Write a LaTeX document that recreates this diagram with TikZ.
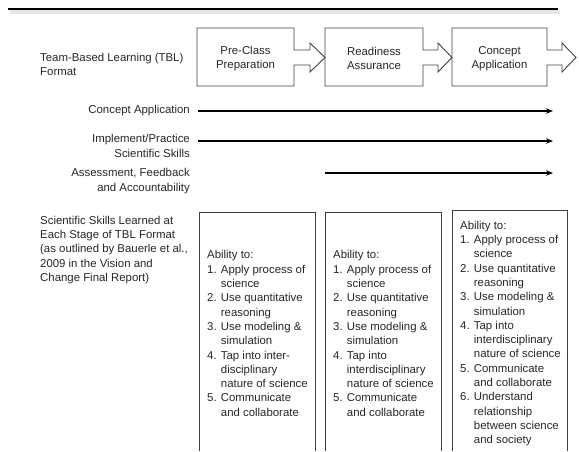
\documentclass[tikz,border=0pt]{standalone}
\usepackage{fontspec}
\setmainfont{Liberation Sans}
\usetikzlibrary{arrows.meta,positioning}
\tikzset{
  lbl/.style={inner sep=0pt, align=left, text=black!85,
    font=\fontsize{11.4}{14.3}\selectfont},
  rlbl/.style={lbl, align=right},
  flow/.style={line width=1.5pt, -{Stealth[length=7pt,width=5.5pt]}},
  frame/.style={draw=black!75, line width=0.9pt, line join=miter},
}
\newcommand{\ind}{\phantom{1. }}

\begin{document}
\begin{tikzpicture}[x=1pt,y=-1pt]
\useasboundingbox (0,0) rectangle (579,451);
% top rule
\draw[line width=4pt, black!10] (10,12) -- (560,12);
\draw[line width=2.5pt] (8,9) -- (558,9);

% stages of the format
\foreach \l/\r/\sx/\tip/\name/\txt in {197/294/310/325/pre/{Pre-Class\\Preparation},
    325/423/438/452/ready/{Readiness\\Assurance},
    452/547/562/576/apply/{Concept\\Application}}{
  \draw[frame] (\l,28) -- (\r,28) -- (\r,50) -- (\sx,50) -- (\sx,43) -- (\tip,57.5)
    -- (\sx,72) -- (\sx,65) -- (\r,65) -- (\r,86) -- (\l,86) -- cycle;
  \node[lbl, align=center] (\name) at ({(\l+\r)/2},58.5) {\txt};
}
\node[lbl, anchor=west] (tbl) at (40,64.5) {Team-Based Learning (TBL)\\Format};

% rows
\node[rlbl, anchor=east] (rowA) at (190,111) {Concept Application};
\node[rlbl, anchor=east] (rowB) at (190,146) {Implement/Practice\\Scientific Skills};
\node[rlbl, anchor=east] (rowC) at (190,181) {Assessment, Feedback\\and Accountability};
\coordinate (sA) at (198,111); \coordinate (eA) at (553,111);
\coordinate (sB) at (198,141); \coordinate (eB) at (553,141);
\coordinate (sC) at (325,173); \coordinate (eC) at (553,173);
\draw[flow] (sA) -- (eA);
\draw[flow] (sB) -- (eB);
\draw[flow] (sC) -- (eC);

% skills learned
\node[lbl, anchor=west] (skillhead) at (40,250) {Scientific Skills Learned at\\Each Stage of TBL Format\\(as outlined by Bauerle et al.,\\2009 in the Vision and\\Change Final Report)};
\foreach \l/\r/\t in {199/315/212, 325/441/212, 452/567/210}
  \draw[frame] (\l,451) -- (\l,\t) -- (\r,\t) -- (\r,451);

\node[lbl, anchor=west] (skillA) at (207,333.5) {Ability to:\\1. Apply process of\\\ind science\\2. Use quantitative\\\ind reasoning\\3. Use modeling \&\\\ind simulation\\4. Tap into inter-\\\ind disciplinary\\\ind nature of science\\5. Communicate\\\ind and collaborate};
\node[lbl, anchor=west] (skillB) at (333,333.5) {Ability to:\\1. Apply process of\\\ind science\\2. Use quantitative\\\ind reasoning\\3. Use modeling \&\\\ind simulation\\4. Tap into\\\ind interdisciplinary\\\ind nature of science\\5. Communicate\\\ind and collaborate};
\node[lbl, anchor=west] (skillC) at (460,333.5) {Ability to:\\1. Apply process of\\\ind science\\2. Use quantitative\\\ind reasoning\\3. Use modeling \&\\\ind simulation\\4. Tap into\\\ind interdisciplinary\\\ind nature of science\\5. Communicate\\\ind and collaborate\\6. Understand\\\ind relationship\\\ind between science\\\ind and society};
\end{tikzpicture}
\end{document}
